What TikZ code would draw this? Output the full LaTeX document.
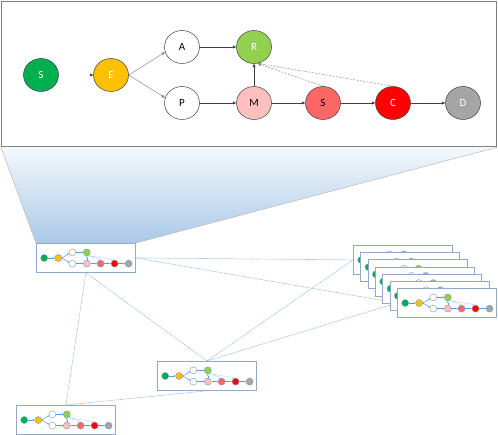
\documentclass[tikz,border=0pt]{standalone}
\usepackage{fontspec}
\setmainfont{Carlito}
\usetikzlibrary{arrows.meta,shapes.geometric,backgrounds}
\definecolor{cS}{HTML}{00B050}
\definecolor{cE}{HTML}{FFC000}
\definecolor{cR}{HTML}{92D050}
\definecolor{cM}{HTML}{FFBFBF}
\definecolor{cS2}{HTML}{FF6666}
\definecolor{cC}{HTML}{FF0000}
\definecolor{cD}{HTML}{A5A5A5}
\definecolor{ndraw}{HTML}{404040}
\definecolor{edark}{HTML}{404040}
\definecolor{elight}{HTML}{8C8C8C}
\definecolor{boxgray}{HTML}{7F7F7F}
\definecolor{minib}{HTML}{8FAACC}
\definecolor{minil}{HTML}{5B9BD5}
\definecolor{minin}{HTML}{7A96C0}
\definecolor{linkc}{HTML}{8DB6E0}
\definecolor{shtop}{HTML}{F4F8FC}
\definecolor{shbot}{HTML}{ABC9E8}
\tikzset{
  bignode/.style={ellipse, draw=ndraw, line width=0.5pt, minimum width=35pt,
    minimum height=33pt, inner sep=0pt, font=\fontsize{11}{13}\selectfont},
  bigarrow/.style={draw=edark, line width=0.5pt, -{Triangle[length=3.5pt,width=3pt]}},
  dasharrow/.style={draw=elight, line width=0.5pt, dash pattern=on 2pt off 1.5pt,
    -{Triangle[length=3.5pt,width=3pt]}},
  minibox/.style={rectangle, draw=minib, fill=white, line width=0.8pt,
    minimum width=99pt, minimum height=29pt, inner sep=0pt},
  mininode/.style={circle, draw=minin, line width=0.4pt, minimum size=7pt, inner sep=0pt},
  miniarrow/.style={draw=minil, line width=0.5pt, -{Triangle[length=1.6pt,width=1.6pt]}},
  minidash/.style={draw=minil!70, line width=0.4pt, dash pattern=on 0.8pt off 0.6pt},
  link/.style={draw=linkc, line width=0.6pt, dash pattern=on 0.9pt off 0.7pt},
}
\newcommand{\minidiag}[3]{%
  \node[minibox, anchor=north west] (#1) at (#2,#3) {};
  \begin{scope}[shift={(#2,#3)}, x=0.2pt, y=-0.2pt]
    \node[mininode, fill=cS] (#1-s) at (41,75) {};
    \node[mininode, fill=cE] (#1-e) at (111,75) {};
    \node[mininode, fill=white] (#1-a) at (182,47) {};
    \node[mininode, fill=white] (#1-p) at (182,103) {};
    \node[mininode, fill=cR] (#1-r) at (254,47) {};
    \node[mininode, fill=cM] (#1-m) at (254,103) {};
    \node[mininode, fill=cS2] (#1-t) at (323,103) {};
    \node[mininode, fill=cC] (#1-c) at (393,103) {};
    \node[mininode, fill=cD] (#1-d) at (463,103) {};
    \draw[miniarrow] (#1-s) -- (#1-e);
    \draw[miniarrow] (#1-e.east) -- (#1-a.200);
    \draw[miniarrow] (#1-e.east) -- (#1-p.160);
    \draw[miniarrow] (#1-a) -- (#1-r);
    \draw[miniarrow] (#1-p) -- (#1-m);
    \draw[miniarrow] (#1-m) -- (#1-r);
    \draw[miniarrow] (#1-m) -- (#1-t);
    \draw[miniarrow] (#1-t) -- (#1-c);
    \draw[miniarrow] (#1-c) -- (#1-d);
    \draw[minidash] (#1-t.north) -- (#1-r.-60);
    \draw[minidash] (#1-c.north) -- (#1-r.-60);
  \end{scope}}
\begin{document}
\begin{tikzpicture}[x=1pt,y=-1pt]
\useasboundingbox (0,0) rectangle (498,435);
% main enlarged diagram
\node[rectangle, draw=boxgray, line width=0.8pt, fill=white, minimum width=495pt,
  minimum height=145.5pt, inner sep=0pt, anchor=north west] (main) at (1,1) {};
\node[bignode, fill=cS, text=white] (S) at (41,75) {S};
\node[bignode, fill=cE, text=white] (E) at (111,75) {E};
\node[bignode, fill=white] (A) at (182,47) {A};
\node[bignode, fill=white] (P) at (182,103) {P};
\node[bignode, fill=cR, text=white] (R) at (254,47) {R};
\node[bignode, fill=cM] (M) at (254,103) {M};
\node[bignode, fill=cS2] (S2) at (323,103) {S};
\node[bignode, fill=cC, text=white] (C) at (393,103) {C};
\node[bignode, fill=cD, text=white] (D) at (463,103) {D};
\draw[draw=white, line width=0.5pt, -{Triangle[length=3.5pt,width=3pt,color=edark]}] (S) -- (E);
\draw[bigarrow, draw=elight] (E.east) -- (A.197);
\draw[bigarrow, draw=elight] (E.east) -- (P.163);
\draw[bigarrow] (A) -- (R);
\draw[bigarrow] (P) -- (M);
\draw[bigarrow] (M) -- (R);
\draw[bigarrow] (M) -- (S2);
\draw[bigarrow] (S2) -- (C);
\draw[bigarrow] (C) -- (D);
\draw[dasharrow] (S2.north) -- (R.-78);
\draw[dasharrow] (C.north) -- (R.-78);
% thumbnails
\minidiag{b1}{36}{243}
\minidiag{mid}{157}{361}
\minidiag{bl}{16}{405}
\foreach \i in {0,...,6}{
  \pgfmathsetmacro\xx{353+\i*7.33}
  \pgfmathsetmacro\yy{245+\i*7.17}
  \minidiag{k\i}{\xx}{\yy}
}
\begin{scope}[on background layer]
  \shade[top color=shtop, bottom color=shbot] (main.south west) -- (main.south east)
    -- (b1.north east) -- (b1.north west) -- cycle;
  \draw[draw=gray!55, line width=0.5pt] (main.south west) -- (b1.north west);
  \draw[draw=gray!55, line width=0.5pt] (main.south east) -- (b1.north east);
  \draw[link] (b1.east) -- (k0.west);
  \draw[link] (b1.east) -- (k6.west);
  \draw[link] (mid.north) -- (k0.west);
  \draw[link] (mid.north) -- (k6.west);
  \draw[link] (b1.south) -- (mid.north);
  \draw[link] (b1.south) -- (bl.north);
  \draw[link] (bl.north) -- (mid.south);
\end{scope}
\end{tikzpicture}
\end{document}
